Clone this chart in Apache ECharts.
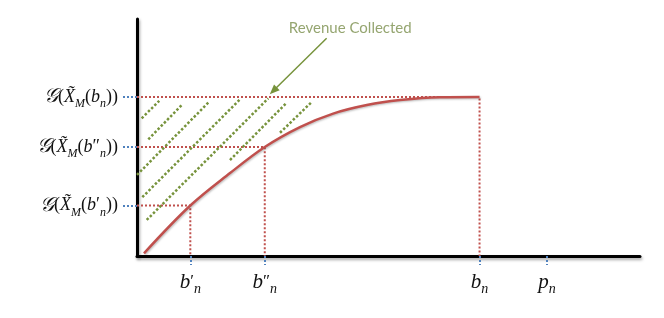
<!DOCTYPE html>
<html>
<head>
<meta charset="utf-8">
<script src="https://cdn.jsdelivr.net/npm/echarts@6/dist/echarts.min.js"></script>
<style>html,body{margin:0;padding:0;background:#fff}#c{width:664px;height:318px}</style>
</head>
<body>
<div id="c"></div>
<script>
// ---- data (schematic units) ----
const xTickVals = [10.6, 25.4, 68.1, 81.5];           // b'_n, b''_n, b_n, p_n
const xTickNames = ['bp', 'bpp', 'b', 'p'];
const yLevels = [21.3, 46.0, 67.1];                    // G(X(b'_n)), G(X(b''_n)), G(X(b_n))
const yLevelNames = ['bp', 'bpp', 'b'];
const guideX = [10.6, 25.4, 68.1];                     // curve points matching the levels
const curveX = [1.39, 10.6, 18.5, 25.4, 32.4, 39.0, 45.7, 52.3, 60.2, 68.1];
const curveY = [1.14, 21.3, 35.0, 46.0, 54.4, 60.1, 63.7, 65.8, 67.0, 67.1];
const hatchStart = [[0.93, 58.1], [2.25, 49.2], [0, 34.2], [1.05, 24.8], [1.93, 15.2], [18.49, 40.5], [28.43, 52.0]];
const hatchEnd = [[4.43, 65.5], [8.89, 63.7], [14.17, 64.7], [20.48, 66.1], [26.10, 66.5], [29.76, 64.7], [34.59, 64.7]];
const arrowFrom = [37.7, 91.9];
const arrowTo = [27.1, 69.7];
const annotPos = [42.4, 96.0];
const annotText = 'Revenue Collected';

const RED = '#c0504d', GREEN = '#77933c', BLUE = '#4f81bd';
const serif = '"Liberation Serif", "DejaVu Serif", serif';

const series = [];
// red guide lines
yLevels.forEach((y, i) => {
  series.push({
    type: 'line', silent: true, symbol: 'none', z: 2,
    data: [[0, y], [guideX[i], y], [guideX[i], 0]],
    lineStyle: { color: RED, width: 2, type: [2, 2] }
  });
});
// green hatch
hatchStart.forEach((s, i) => {
  series.push({
    type: 'line', silent: true, symbol: 'none', z: 2,
    data: [s, hatchEnd[i]],
    lineStyle: { color: GREEN, width: 2.5, type: [2.5, 2] }
  });
});
// curve
series.push({
  type: 'line', silent: true, symbol: 'none', z: 4,
  smooth: 0.35,
  data: curveX.map((x, i) => [x, curveY[i]]),
  lineStyle: { color: RED, width: 2.5, shadowColor: 'rgba(0,0,0,0.25)', shadowBlur: 2, shadowOffsetX: 1, shadowOffsetY: 1 }
});
// annotation
series.push({
  type: 'scatter', silent: true, symbolSize: 0, z: 5,
  data: [annotPos],
  label: { show: true, position: 'inside', formatter: annotText, color: '#7a8f4c', fontSize: 15, fontFamily: 'Lato, "Open Sans", sans-serif' },
  markLine: {
    silent: true, animation: false,
    symbol: ['none', 'triangle'], symbolSize: 9,
    label: { show: false },
    lineStyle: { color: GREEN, width: 1.5, type: 'solid' },
    data: [[{ coord: arrowFrom, symbol: 'none' }, { coord: arrowTo, symbol: 'triangle', symbolSize: [8, 10] }]]
  }
});

function xLabel(v) {
  const k = xTickNames[xTickVals.findIndex(t => Math.abs(t - v) < 1e-6)];
  if (k === 'bp') return '{i|b}{r|′}{s|n}';
  if (k === 'bpp') return '{i|b}{r|″}{s|n}';
  if (k === 'b') return '{i|b}{s|n}';
  return '{i|p}{s|n}';
}
function yLabel(v) {
  const k = yLevelNames[yLevels.findIndex(t => Math.abs(t - v) < 1e-6)];
  const pr = k === 'bp' ? '{yr|′}' : (k === 'bpp' ? '{yr|″}' : '');
  return '{yg|𝒢}{yr|(}{yi|X̃}{ys|M}{yr|(}{yi|b}' + pr + '{ys|n}{yr|))}';
}

const axisLineStyle = { color: '#000', width: 3, shadowColor: 'rgba(0,0,0,0.35)', shadowBlur: 3, shadowOffsetX: 1, shadowOffsetY: 2 };

const chart = echarts.init(document.getElementById('c'), null, { renderer: 'canvas' });
chart.setOption({
  animation: false,
  grid: { left: 137, right: 24, top: 19, bottom: 62, containLabel: false },
  xAxis: {
    type: 'value', min: 0, max: 100,
    splitLine: { show: false },
    axisLine: { show: true, onZero: false, lineStyle: axisLineStyle },
    axisTick: { show: true, customValues: xTickVals, length: 9, lineStyle: { color: BLUE, width: 2, type: [2, 2] } },
    axisLabel: {
      show: true, customValues: xTickVals, margin: 12, formatter: xLabel,
      rich: {
        i: { fontFamily: serif, fontStyle: 'italic', fontSize: 21, lineHeight: 28, color: '#111', verticalAlign: 'middle' },
        r: { fontFamily: serif, fontSize: 17, lineHeight: 28, color: '#111', verticalAlign: 'middle' },
        s: { fontFamily: serif, fontStyle: 'italic', fontSize: 14, lineHeight: 11, color: '#111', verticalAlign: 'bottom' }
      }
    }
  },
  yAxis: {
    type: 'value', min: 0, max: 100,
    splitLine: { show: false },
    axisLine: { show: true, onZero: false, lineStyle: axisLineStyle },
    axisTick: { show: true, customValues: yLevels, length: 14, lineStyle: { color: BLUE, width: 2, type: [2, 2] } },
    axisLabel: {
      show: true, customValues: yLevels, margin: 19, formatter: yLabel,
      rich: {
        yg: { fontFamily: serif, fontStyle: 'italic', fontSize: 20, lineHeight: 26, color: '#111', verticalAlign: 'middle' },
        yi: { fontFamily: serif, fontStyle: 'italic', fontSize: 18, lineHeight: 26, color: '#111', verticalAlign: 'middle' },
        yr: { fontFamily: serif, fontSize: 18, lineHeight: 26, color: '#111', verticalAlign: 'middle' },
        ys: { fontFamily: serif, fontStyle: 'italic', fontSize: 12, lineHeight: 10, color: '#111', verticalAlign: 'bottom' }
      }
    }
  },
  series: series
});
</script>
</body>
</html>
